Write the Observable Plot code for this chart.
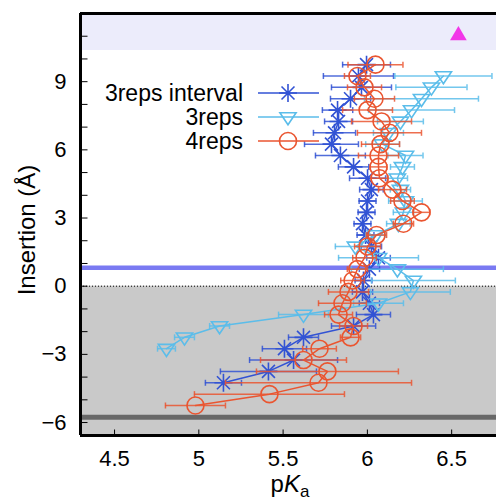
<!DOCTYPE html>
<html>
<head>
<meta charset="utf-8">
<script src="https://cdn.jsdelivr.net/npm/d3@7"></script>
<script src="https://cdn.jsdelivr.net/npm/@observablehq/plot@0.6"></script>
<style>
  html, body { margin: 0; padding: 0; background: #fff; }
  #chart { width: 496px; height: 502px; overflow: hidden; }
</style>
</head>
<body>
<div id="chart"></div>
<script>
// ---------------- data ----------------
const seriesNames = ["3reps interval", "3reps", "4reps"];
const seriesColors = ["#3253d4", "#5bbdea", "#ea5530"];

// 3reps interval (asterisks)
const intervalY = [9.75, 9.25, 8.75, 8.25, 7.75, 7.25, 6.75, 6.25, 5.75, 5.25, 4.75, 4.25, 3.75, 3.25, 2.75, 2.25, 1.75, 1.25, 0.75, 0.25, -0.25, -0.75, -1.25, -1.75, -2.25, -2.75, -3.25, -3.75, -4.25];
const intervalX = [5.995, 5.947, 5.965, 5.900, 5.823, 5.829, 5.805, 5.787, 5.840, 5.918, 6.001, 6.024, 6.001, 5.995, 5.971, 5.989, 6.024, 6.066, 6.012, 5.977, 5.971, 6.012, 6.036, 5.918, 5.621, 5.508, 5.562, 5.413, 5.146];
const intervalErr = [0.142, 0.208, 0.178, 0.119, 0.090, 0.083, 0.125, 0.160, 0.148, 0.090, 0.107, 0.070, 0.050, 0.050, 0.050, 0.050, 0.060, 0.070, 0.060, 0.050, 0.060, 0.060, 0.101, 0.131, 0.089, 0.131, 0.261, 0.285, 0.107];

// 3reps (down triangles)
const threeY = [9.25, 8.75, 8.25, 7.75, 7.25, 6.75, 6.25, 5.75, 5.25, 4.75, 4.25, 3.75, 3.25, 2.75, 2.25, 1.75, 1.25, 0.75, 0.25, -0.25, -0.75, -1.25, -1.75, -2.25, -2.75];
const threeX = [6.451, 6.380, 6.321, 6.262, 6.196, 6.125, 6.090, 6.226, 6.208, 6.178, 6.196, 6.226, 6.214, 6.184, 6.050, 5.929, 6.066, 6.178, 6.273, 6.255, 6.066, 5.621, 5.123, 4.915, 4.808];
const threeErr = [0.288, 0.211, 0.338, 0.255, 0.136, 0.089, 0.100, 0.104, 0.071, 0.060, 0.060, 0.100, 0.060, 0.070, 0.060, 0.119, 0.237, 0.273, 0.249, 0.237, 0.148, 0.148, 0.059, 0.059, 0.053];

// 4reps (circles)
const fourY = [9.75, 9.25, 8.75, 8.25, 7.75, 7.25, 6.75, 6.25, 5.75, 5.25, 4.75, 4.25, 3.75, 3.25, 2.75, 2.25, 1.75, 1.25, 0.75, 0.25, -0.25, -0.75, -1.25, -1.75, -2.25, -2.75, -3.25, -3.75, -4.25, -4.75, -5.25];
const fourX = [6.048, 5.941, 5.983, 6.042, 6.001, 6.084, 6.131, 6.078, 6.066, 6.066, 6.072, 6.149, 6.208, 6.321, 6.214, 6.054, 6.001, 5.983, 5.941, 5.912, 5.888, 5.852, 5.829, 5.918, 5.900, 5.716, 5.621, 5.763, 5.710, 5.419, 4.980];
const fourErr = [0.163, 0.077, 0.101, 0.119, 0.148, 0.178, 0.190, 0.113, 0.119, 0.050, 0.050, 0.083, 0.070, 0.050, 0.060, 0.060, 0.077, 0.070, 0.060, 0.070, 0.119, 0.142, 0.083, 0.083, 0.060, 0.100, 0.255, 0.421, 0.552, 0.445, 0.178];

// reference lines / bands
const xDomain = [4.298, 6.766];
const yDomain = [-6.57, 12.0];
const grayBand = [{y1: -6.57, y2: 0}];
const topBand = [{y1: 10.37, y2: 12.0}];
const blueLevel = [0.81];
const darkLevel = [-5.77];
const zeroLevel = [0];
const markerPoint = [{x: 6.54, y: 11.03}];

const xTickValues = [4.5, 5, 5.5, 6, 6.5];
const yTickLabels = [-6, -3, 0, 3, 6, 9];
const yTickAll = [-6, -5, -4, -3, -2, -1, 0, 1, 2, 3, 4, 5, 6, 7, 8, 9, 10, 11];

// ---------------- build ----------------
const toRows = (xs, ys, es) => xs.map((x, i) => ({x, y: ys[i], e: es[i]}));
const series = [
  toRows(intervalX, intervalY, intervalErr),
  toRows(threeX, threeY, threeErr),
  toRows(fourX, fourY, fourErr)
];

const starSymbol = {
  draw(ctx, size) {
    const r = Math.sqrt(size / Math.PI);
    const d = r * 0.72;
    ctx.moveTo(-r, 0); ctx.lineTo(r, 0);
    ctx.moveTo(0, -r); ctx.lineTo(0, r);
    ctx.moveTo(-d, -d); ctx.lineTo(d, d);
    ctx.moveTo(-d, d); ctx.lineTo(d, -d);
  }
};
const downTriangle = {
  draw(ctx, size) {
    const s = Math.sqrt(size / Math.PI);
    const h = s * 1.3;
    ctx.moveTo(-s * 1.35, -h * 0.55);
    ctx.lineTo(s * 1.35, -h * 0.55);
    ctx.lineTo(0, h * 1.0);
    ctx.closePath();
  }
};
const capSymbol = { draw(ctx) { ctx.moveTo(0, -3); ctx.lineTo(0, 3); } };
const tickRight = { draw(ctx) { ctx.moveTo(0, 0); ctx.lineTo(7, 0); } };
const tickUp = { draw(ctx) { ctx.moveTo(0, 0); ctx.lineTo(0, -6); } };

const symbols = [starSymbol, downTriangle, "circle"];
const radii = [9, 6, 8.5];

function seriesMarks(rows, i) {
  const c = seriesColors[i];
  return [
    Plot.ruleY(rows, {y: "y", x1: d => d.x - d.e, x2: d => d.x + d.e, stroke: c, strokeWidth: 1.5, strokeOpacity: 0.85}),
    Plot.dot(rows, {x: d => d.x - d.e, y: "y", symbol: capSymbol, stroke: c, strokeWidth: 1.5, strokeOpacity: 0.85}),
    Plot.dot(rows, {x: d => d.x + d.e, y: "y", symbol: capSymbol, stroke: c, strokeWidth: 1.5, strokeOpacity: 0.85}),
    Plot.line(rows, {x: "x", y: "y", stroke: c, strokeWidth: 1.5}),
    Plot.dot(rows, {x: "x", y: "y", symbol: symbols[i], r: radii[i], stroke: c, fill: "none", strokeWidth: 1.6})
  ];
}

const font = "'Liberation Sans', Arial, Helvetica, sans-serif";

const chart = Plot.plot({
  width: 496,
  height: 502,
  marginLeft: 80,
  marginRight: 0,
  marginTop: 13,
  marginBottom: 67,
  x: {domain: xDomain, axis: null},
  y: {domain: yDomain, axis: null},
  style: {fontFamily: font, background: "#fff", overflow: "hidden"},
  marks: [
    Plot.rect(grayBand, {y1: "y1", y2: "y2", fill: "#c9c9c9"}),
    Plot.rect(topBand, {y1: "y1", y2: "y2", fill: "#ececfb"}),
    Plot.ruleY(zeroLevel, {stroke: "#000", strokeWidth: 1, strokeDasharray: "1,2"}),
    Plot.ruleY(blueLevel, {stroke: "#7a7af2", strokeWidth: 4.5}),
    Plot.ruleY(darkLevel, {stroke: "#686868", strokeWidth: 5}),
    Plot.dot(markerPoint, {x: "x", y: "y", symbol: "triangle", r: 6.2, fill: "#f236e8", stroke: "none"}),
    ...series.flatMap((rows, i) => seriesMarks(rows, i)),
    Plot.dot(yTickAll, {y: d => d, frameAnchor: "left", symbol: tickRight, stroke: "#000", strokeWidth: 1}),
    Plot.dot(xTickValues, {x: d => d, frameAnchor: "bottom", symbol: tickUp, stroke: "#000", strokeWidth: 1}),
    Plot.ruleX([xDomain[0]], {stroke: "#000", strokeWidth: 3}),
    Plot.ruleY([yDomain[0], yDomain[1]], {stroke: "#000", strokeWidth: 3}),
    Plot.axisX(xTickValues, {tickSize: 0, tickPadding: 15, fontSize: 22, label: null, tickFormat: d => String(d), fill: "#000"}),
    Plot.axisY(yTickLabels, {tickSize: 0, tickPadding: 14, fontSize: 22, label: null, fill: "#000"})
  ]
});

document.getElementById("chart").appendChild(chart);

// ---------------- labels & legend ----------------
const svg = d3.select(chart);
svg.append("text")
  .attr("transform", "translate(26,230) rotate(-90)")
  .attr("text-anchor", "middle")
  .attr("dominant-baseline", "central")
  .attr("font-family", font)
  .attr("font-size", 24)
  .attr("fill", "#000")
  .text("Insertion (Å)");

const xl = svg.append("text")
  .attr("x", 290).attr("y", 492)
  .attr("text-anchor", "middle")
  .attr("font-family", font)
  .attr("font-size", 24)
  .attr("fill", "#000");
xl.append("tspan").text("p");
xl.append("tspan").attr("font-style", "italic").text("K");
xl.append("tspan").attr("font-size", 17).attr("dy", 5).text("a");

const legendRowY = [93, 117, 141];
const lg = svg.append("g").attr("font-family", font).attr("font-size", 23);
seriesNames.forEach((name, i) => {
  const y = legendRowY[i];
  const c = seriesColors[i];
  lg.append("text").attr("x", 243).attr("y", y).attr("dy", "0.36em")
    .attr("text-anchor", "end").attr("fill", "#000").text(name);
  lg.append("line").attr("x1", 258).attr("x2", 319).attr("y1", y).attr("y2", y)
    .attr("stroke", c).attr("stroke-width", 1.5);
  const sym = i === 1 ? downTriangle : (i === 0 ? starSymbol : d3.symbolCircle);
  const r = radii[i];
  lg.append("path").attr("transform", `translate(288,${y})`)
    .attr("d", d3.symbol(sym, r * r * Math.PI)())
    .attr("fill", "none").attr("stroke", c).attr("stroke-width", 1.6);
});
</script>
</body>
</html>
